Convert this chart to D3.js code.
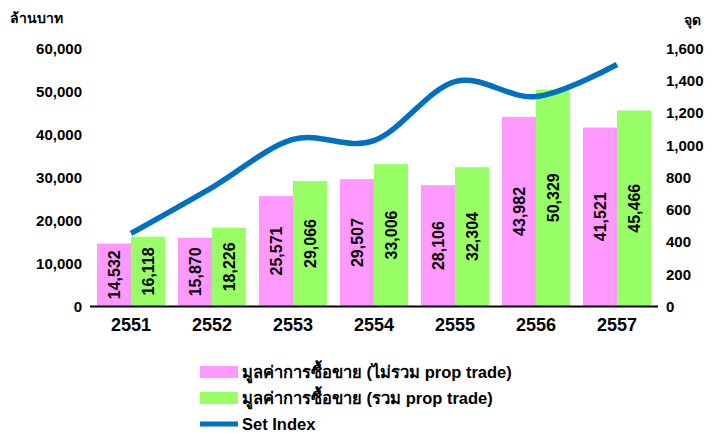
<!DOCTYPE html>
<html>
<head>
<meta charset="utf-8">
<script src="https://cdn.jsdelivr.net/npm/d3@7"></script>
<style>
	body { margin: 0; background: #fff; }
	text { font-family: "Liberation Sans", Arial, sans-serif; font-weight: bold; fill: #000; }
</style>
</head>
<body>
<svg id="chart" width="715" height="433"></svg>
<script>
	var years = ["2551", "2552", "2553", "2554", "2555", "2556", "2557"];
	var valueExProp = [14532, 15870, 25571, 29507, 28106, 43982, 41521];
	var valueInProp = [16118, 18226, 29066, 33006, 32304, 50329, 45466];
	var setIndex = [449.96, 734.54, 1032.76, 1025.32, 1391.93, 1298.71, 1497.67];
	var leftTicks = [0, 10000, 20000, 30000, 40000, 50000, 60000];
	var rightTicks = [0, 200, 400, 600, 800, 1000, 1200, 1400, 1600];
	var legendLabels = ["มูลค่าการซื้อขาย (ไม่รวม prop trade)", "มูลค่าการซื้อขาย (รวม prop trade)", "Set Index"];

	var pink = "#FF99FF", green = "#99FF66", blue = "#0070C0";
	var fmt = d3.format(",");

	var svg = d3.select("#chart");

	var x = d3.scaleBand().domain(years).range([90.5, 657.5]).paddingInner(0.16).paddingOuter(0.08);
	var xSub = d3.scaleBand().domain([0, 1]).range([0, x.bandwidth()]);
	var yLeft = d3.scaleLinear().domain([0, 60000]).range([306, 48]);
	var yRight = d3.scaleLinear().domain([0, 1600]).range([306, 48]);

	// bars
	var series = [
		{vals: valueExProp, color: pink},
		{vals: valueInProp, color: green}
	];
	series.forEach(function (s, si) {
		var g = svg.append("g");
		g.selectAll("rect")
			.data(s.vals)
			.enter().append("rect")
			.attr("x", function (d, i) { return x(years[i]) + xSub(si); })
			.attr("y", function (d) { return yLeft(d); })
			.attr("width", xSub.bandwidth())
			.attr("height", function (d) { return yLeft(0) - yLeft(d); })
			.style("fill", s.color);
		g.selectAll("text")
			.data(s.vals)
			.enter().append("text")
			.attr("transform", function (d, i) {
				var cx = x(years[i]) + xSub(si) + xSub.bandwidth() / 2;
				var cy = (yLeft(d) + yLeft(0)) / 2;
				return "translate(" + (cx + 6) + "," + cy + ") rotate(-90)";
			})
			.attr("text-anchor", "middle")
			.style("font-size", "16px")
			.text(function (d) { return fmt(d); });
	});

	// baseline
	svg.append("line")
		.attr("x1", 90).attr("x2", 658)
		.attr("y1", 306.5).attr("y2", 306.5)
		.style("stroke", "#000").style("stroke-width", 2);

	// set index line
	var line = d3.line()
		.x(function (d, i) { return x(years[i]) + x.bandwidth() / 2; })
		.y(function (d) { return yRight(d); })
		.curve(d3.curveCardinal.tension(0));
	svg.append("path")
		.datum(setIndex)
		.attr("d", line)
		.style("fill", "none")
		.style("stroke", blue)
		.style("stroke-width", 5.5);

	// axes
	var axL = svg.append("g").attr("transform", "translate(82,0)")
		.call(d3.axisLeft(yLeft).tickValues(leftTicks).tickFormat(fmt).tickSize(0).tickPadding(0));
	axL.select(".domain").remove();
	axL.selectAll("text").style("font-size", "15px").style("font-family", null).attr("dy", "0.35em");

	var axR = svg.append("g").attr("transform", "translate(666,0)")
		.call(d3.axisRight(yRight).tickValues(rightTicks).tickFormat(fmt).tickSize(0).tickPadding(0));
	axR.select(".domain").remove();
	axR.selectAll("text").style("font-size", "15px").style("font-family", null).attr("dy", "0.35em");

	var axX = svg.append("g").attr("transform", "translate(0,306)")
		.call(d3.axisBottom(x).tickSize(0).tickPadding(12));
	axX.select(".domain").remove();
	axX.selectAll("text").style("font-size", "18px").style("font-family", null);

	// axis titles
	svg.append("text").attr("x", 10).attr("y", 23).style("font-size", "14px").text("ล้านบาท");
	svg.append("text").attr("x", 684).attr("y", 25).style("font-size", "14px").text("จุด");

	// legend
	var legend = svg.selectAll(".legend")
		.data(legendLabels)
		.enter().append("g")
		.attr("class", "legend")
		.attr("transform", function (d, i) { return "translate(200," + (372 + i * 26) + ")"; });
	legend.each(function (d, i) {
		var g = d3.select(this);
		if (i < 2) {
			g.append("rect").attr("x", 0).attr("y", -6).attr("width", 38).attr("height", 12)
				.style("fill", i === 0 ? pink : green);
		} else {
			g.append("line").attr("x1", 0).attr("x2", 38).attr("y1", 0).attr("y2", 0)
				.style("stroke", blue).style("stroke-width", 5);
		}
		g.append("text").attr("x", 42).attr("dy", "0.35em").style("font-size", "16.5px").text(d);
	});
</script>
</body>
</html>
